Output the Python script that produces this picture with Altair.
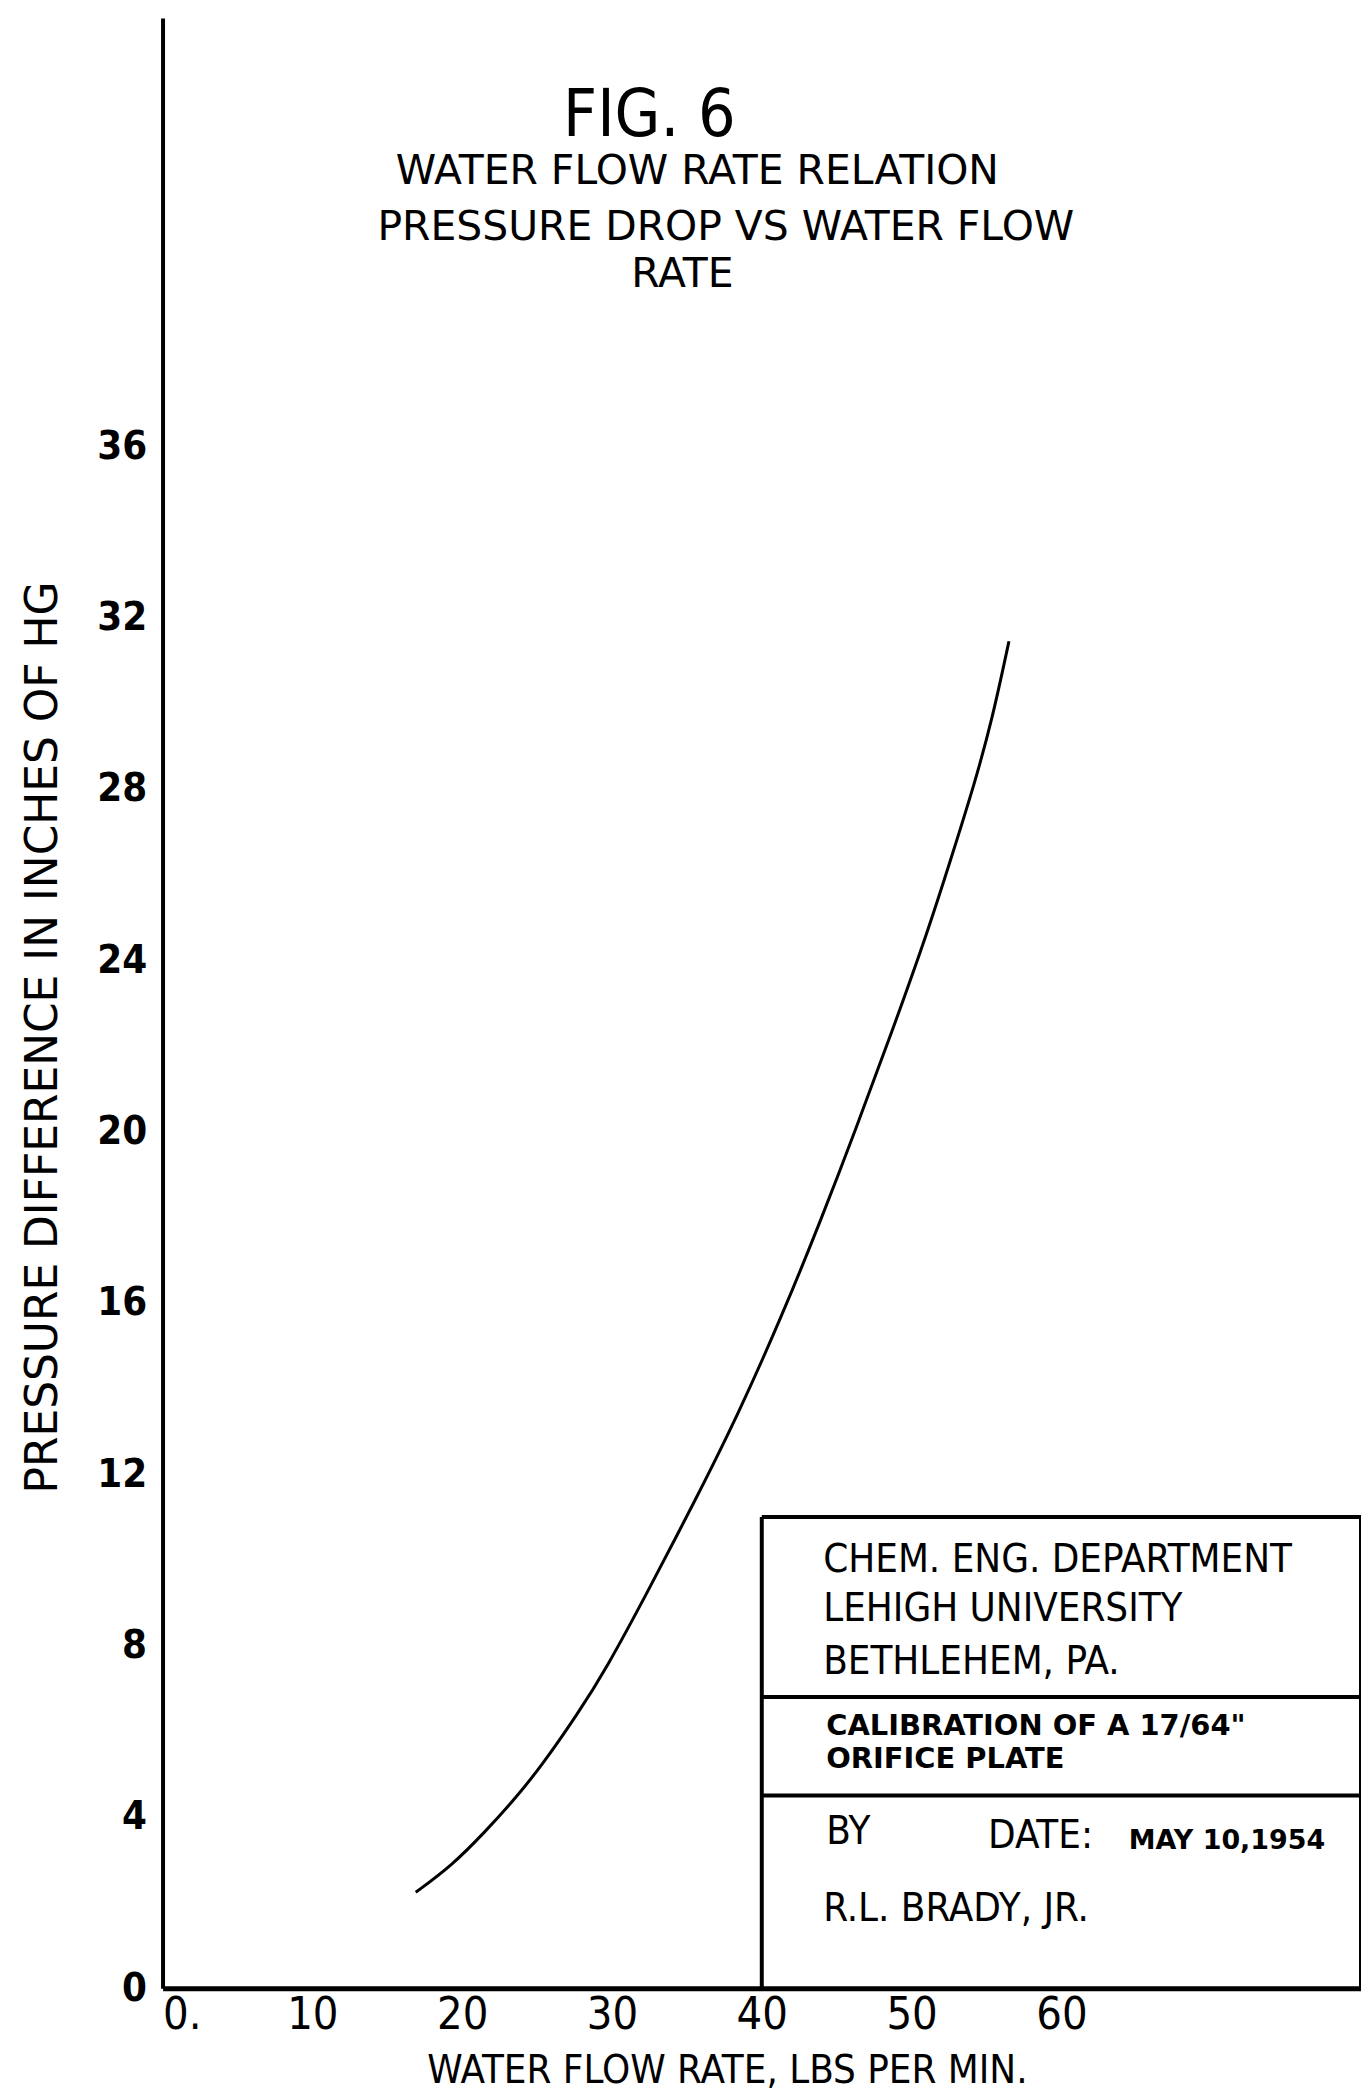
import altair as alt
import pandas as pd

# ---- data ----
flow = [16.9, 19.3, 21.5, 23.6, 25.4, 27.7, 29.6, 32.3, 35.6, 38.4, 41.4, 44.0,
        46.3, 48.7, 51.1, 52.7, 54.2, 55.4, 56.5]
dp = [2.24, 2.86, 3.64, 4.45, 5.24, 6.40, 7.45, 9.20, 11.42, 13.38, 15.74, 17.98,
      20.08, 22.34, 24.69, 26.45, 28.12, 29.65, 31.45]

x_ticks = [0, 10, 20, 30, 40, 50, 60]
y_ticks = [0, 4, 8, 12, 16, 20, 24, 28, 32, 36]

# title-block frame (in data units)
box_x0, box_x1 = 40, 80
box_top = 11
box_div1, box_div2 = 6.8, 4.5

title_lines = ["WATER FLOW RATE RELATION", "PRESSURE DROP VS WATER FLOW", "RATE"]
title_x = [35.7, 37.6, 34.7]
title_y = [42.4, 41.1, 40.0]

block_big = ["CHEM. ENG. DEPARTMENT", "LEHIGH UNIVERSITY", "BETHLEHEM, PA.", "BY", "DATE:", "R.L. BRADY, JR."]
block_big_x = [44.1, 44.1, 44.1, 44.3, 55.1, 44.1]
block_big_y = [10.0, 8.85, 7.62, 3.64, 3.56, 1.84]

block_cal = ["CALIBRATION OF A 17/64\"", "ORIFICE PLATE"]
block_cal_x = [44.3, 44.3]
block_cal_y = [6.13, 5.36]

block_date = ["MAY 10,1954"]
block_date_x = [64.5]
block_date_y = [3.44]

XD = [0, 80]
YD = [0, 46]
narrow = "Liberation Sans Narrow, DejaVu Sans Condensed, sans-serif"
cond = "DejaVu Sans Condensed, DejaVu Sans, sans-serif"
wide = "DejaVu Sans, sans-serif"

curve_df = pd.DataFrame({"flow": flow, "dp": dp})

xs = alt.Scale(domain=XD, nice=False, zero=False)
ys = alt.Scale(domain=YD, nice=False, zero=False)

x_axis = alt.Axis(
    title="WATER FLOW RATE, LBS PER MIN.",
    values=x_ticks, grid=False, ticks=False,
    domainColor="black", domainWidth=5,
    labelFont=cond, labelFontSize=45, labelColor="black",
    labelPadding=4, labelBaseline="top",
    labelExpr="datum.value == 0 ? '0.' : datum.label",
    labelAlign=alt.condition("datum.value == 0", alt.value("left"), alt.value("center")),
    labelFlush=False, labelOverlap=False,
    titleFont=cond, titleFontSize=40, titleFontWeight="normal", titleColor="black",
    titleX=566, titleY=83, titleAlign="center", titleBaseline="middle", titleAnchor="start",
)
y_axis = alt.Axis(
    title="PRESSURE DIFFERENCE IN INCHES OF HG",
    values=y_ticks, grid=False, ticks=False,
    domainColor="black", domainWidth=4,
    labelFont=cond, labelFontSize=40, labelFontWeight="bold", labelColor="black",
    labelPadding=16, labelFlush=False, labelOverlap=False,
    titleFont=wide, titleFontSize=44, titleFontWeight="normal", titleColor="black",
    titleX=-119, titleY=1022, titleAngle=270, titleAlign="center", titleBaseline="middle",
    titleAnchor="start",
)

curve = alt.Chart(curve_df).mark_line(
    color="black", strokeWidth=3, interpolate="basis"
).encode(
    x=alt.X("flow:Q", scale=xs, axis=x_axis),
    y=alt.Y("dp:Q", scale=ys, axis=y_axis),
)

# frame of the title block
h_df = pd.DataFrame({
    "flow": [box_x0, box_x0, box_x0],
    "x2": [box_x1, box_x1, box_x1],
    "dp": [box_top, box_div1, box_div2],
})
v_df = pd.DataFrame({
    "flow": [box_x0, box_x1],
    "dp": [0, 0],
    "y2": [box_top, box_top],
})
hrules = alt.Chart(h_df).mark_rule(color="black", strokeWidth=4).encode(
    x=alt.X("flow:Q", scale=xs, axis=x_axis), x2="x2:Q",
    y=alt.Y("dp:Q", scale=ys, axis=y_axis),
)
vrules = alt.Chart(v_df).mark_rule(color="black", strokeWidth=4).encode(
    x=alt.X("flow:Q", scale=xs, axis=x_axis),
    y=alt.Y("dp:Q", scale=ys, axis=y_axis), y2="y2:Q",
)

def text_layer(texts, xv, yv, font, size, weight="normal", align="left"):
    df = pd.DataFrame({"t": texts, "flow": xv, "dp": yv})
    return alt.Chart(df).mark_text(
        align=align, baseline="middle", font=font, fontSize=size,
        fontWeight=weight, color="black"
    ).encode(
        x=alt.X("flow:Q", scale=xs, axis=x_axis),
        y=alt.Y("dp:Q", scale=ys, axis=y_axis),
        text="t:N",
    )

fig = text_layer(["FIG. 6"], [32.5], [43.7], narrow, 66, align="center")
titles = text_layer(title_lines, title_x, title_y, wide, 41, align="center")
big = text_layer(block_big, block_big_x, block_big_y, narrow, 40)
cal = text_layer(block_cal, block_cal_x, block_cal_y, wide, 29, weight="bold")
date = text_layer(block_date, block_date_x, block_date_y, wide, 27, weight="bold")

chart = alt.layer(curve, hrules, vrules, fig, titles, big, cal, date).properties(
    width=1202, height=1976,
    autosize=alt.AutoSizeParams(type="none"),
    padding={"left": 155, "top": 7, "right": 0, "bottom": 100},
    background="white",
).configure_view(stroke=None)

chart.save("out.html", embed_options={"renderer": "svg", "actions": False})
